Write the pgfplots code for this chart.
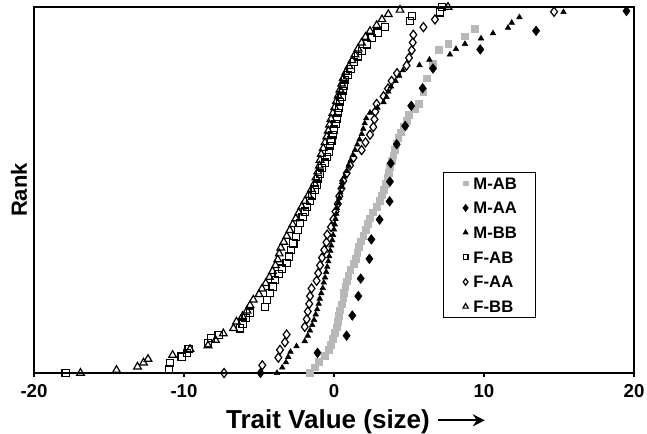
\documentclass[border=0pt]{standalone}
\usepackage{pgfplots}
\pgfplotsset{compat=1.18}
\usepackage{fontspec}
\setmainfont{Liberation Sans}
\usetikzlibrary{arrows.meta}
\definecolor{mab}{gray}{0.72}
\begin{document}
\begin{tikzpicture}
\begin{axis}[
  scale only axis, width=450pt, height=274.5pt,
  xmin=-20, xmax=20, ymin=0, ymax=1,
  clip=false,
  axis line style={line width=1pt},
  xtick={-20,-10,0,10,20},
  xticklabels={{-20},{-10},{0},{10},{20}},
  xtick pos=bottom,
  xticklabel style={font=\bfseries\fontsize{14}{14}\selectfont, yshift=-2pt},
  tick align=outside, major tick length=3pt,
  tick style={line width=0.8pt, black},
  ytick=\empty,
  xlabel={Trait Value (size) \tikz[baseline=0pt]\draw[line width=1.6pt,-{Stealth[length=9pt,width=9pt]}] (0,6.5pt)--(35pt,6.5pt);},
  xlabel style={at={(axis description cs:0.5,0)}, anchor=base, yshift=-42pt, xshift=16.5pt, font=\bfseries\fontsize{19.5}{22}\selectfont},
  ylabel={Rank},
  ylabel style={at={(axis description cs:-0.0117,0.5)}, anchor=base, font=\bfseries\fontsize{16.5}{18}\selectfont},
  legend cell align=left,
  legend image code/.code={\path (-4pt,0pt) (3.5pt,0pt); \draw[#1] plot coordinates {(0pt,0pt)};},
  legend style={at={(rel axis cs:0.837,0.549)}, anchor=north east, draw=black, line width=0.8pt,
    font=\bfseries\fontsize{12.5}{14}\selectfont,
    inner xsep=12pt, inner ysep=1.5pt, row sep=5.5pt, column sep=0pt,
    nodes={inner xsep=2pt, inner ysep=2pt, text height=9pt, text depth=0pt}},
]
% M-AB
\addplot[only marks, mark=square*, mark size=2.5pt, mark options={draw=mab, fill=mab, line width=0.3pt}, legend image post style={mark size=1.8pt}] table {
x y
-1.6 0.000
-1.3 0.016
-1.0 0.031
-0.6 0.047
-0.35 0.063
-0.2 0.078
-0.1 0.094
0.05 0.110
0.18 0.125
0.25 0.141
0.33 0.157
0.4 0.172
0.5 0.188
0.62 0.204
0.65 0.219
0.75 0.235
0.84 0.251
0.95 0.266
1.07 0.282
1.3 0.298
1.45 0.313
1.55 0.329
1.65 0.345
1.8 0.360
1.95 0.376
2.1 0.392
2.25 0.407
2.4 0.423
2.6 0.439
2.84 0.454
3.05 0.470
3.2 0.486
3.3 0.501
3.45 0.517
3.55 0.533
3.65 0.548
3.73 0.564
3.85 0.580
3.95 0.595
4.05 0.611
4.15 0.627
4.29 0.642
4.45 0.658
4.65 0.674
4.85 0.689
5.0 0.705
5.4 0.721
5.65 0.736
5.95 0.768
6.18 0.805
6.6 0.845
6.96 0.883
7.62 0.900
8.73 0.920
9.4 0.940
};
\addlegendentry{M-AB}
% M-AA
\addplot[only marks, mark=diamond*, mark size=3.6pt, mark options={black}, legend image post style={mark size=2.4pt}] table {
x y
-4.9 0.000
-1.1 0.055
0.84 0.102
1.22 0.157
1.62 0.210
1.78 0.258
2.36 0.312
2.49 0.365
3.04 0.419
3.71 0.469
3.73 0.523
3.78 0.573
4.18 0.625
4.75 0.675
5.15 0.730
5.91 0.778
6.6 0.832
9.75 0.884
13.47 0.935
19.5 0.989
};
\addlegendentry{M-AA}
% M-BB
\addplot[only marks, mark=triangle*, mark size=2.4pt, mark options={black}, legend image post style={mark size=1.9pt}] table {
x y
-3.8 0.000
-3.45 0.015
-3.2 0.029
-3.05 0.044
-2.9 0.058
-2.5 0.073
-1.95 0.087
-1.75 0.102
-1.6 0.116
-1.45 0.131
-1.33 0.145
-1.22 0.160
-1.12 0.174
-1.02 0.189
-0.95 0.203
-0.85 0.218
-0.75 0.232
-0.68 0.247
-0.6 0.261
-0.52 0.276
-0.45 0.290
-0.38 0.305
-0.32 0.319
-0.25 0.334
-0.18 0.348
-0.12 0.363
-0.06 0.377
0.0 0.392
0.05 0.406
0.1 0.421
0.15 0.435
0.2 0.450
0.28 0.464
0.35 0.479
0.42 0.493
0.48 0.508
0.55 0.522
0.7 0.537
0.85 0.551
0.98 0.566
1.1 0.580
1.25 0.595
1.4 0.609
1.55 0.624
1.7 0.638
1.85 0.653
1.95 0.667
2.05 0.682
2.15 0.696
2.4 0.711
2.9 0.725
3.3 0.740
3.5 0.754
3.62 0.769
3.8 0.783
4.1 0.798
4.35 0.812
4.6 0.827
5.7 0.841
6.36 0.856
7.73 0.870
8.13 0.885
8.73 0.899
9.8 0.914
10.6 0.928
11.6 0.943
11.85 0.957
12.36 0.972
15.3 0.986
};
\addlegendentry{M-BB}
% F-AB
\addplot[only marks, mark=square, mark size=2.7pt, mark options={black, line width=0.9pt}, legend image post style={mark size=1.8pt, line width=0.8pt}] table {
x y
-17.9 0.000
-11.0 0.011
-10.93 0.028
-10.16 0.045
-9.8 0.055
-9.7 0.066
-8.4 0.081
-8.2 0.095
-7.7 0.104
-6.27 0.122
-6.1 0.135
-5.9 0.150
-5.6 0.165
-4.6 0.181
-4.45 0.200
-4.27 0.218
-4.1 0.236
-3.93 0.254
-3.7 0.270
-3.45 0.285
-3.16 0.300
-3.0 0.318
-2.85 0.336
-2.71 0.354
-2.55 0.372
-2.4 0.390
-2.27 0.409
-2.1 0.427
-1.95 0.441
-1.82 0.454
-1.6 0.470
-1.45 0.485
-1.3 0.500
-1.15 0.515
-1.05 0.530
-0.95 0.545
-0.8 0.560
-0.6 0.575
-0.45 0.590
-0.35 0.605
-0.25 0.620
-0.18 0.635
-0.1 0.650
0.0 0.665
0.1 0.680
0.18 0.695
0.25 0.710
0.32 0.725
0.4 0.740
0.5 0.755
0.6 0.770
0.68 0.785
0.73 0.800
0.9 0.815
1.1 0.830
1.35 0.850
1.6 0.865
1.85 0.880
2.18 0.898
2.5 0.915
2.9 0.930
3.4 0.946
5.07 0.962
5.2 0.975
7.07 0.985
7.2 1.000
};
\addlegendentry{F-AB}
% F-AA
\addplot[only marks, mark=diamond, mark size=3.4pt, mark options={black, line width=0.9pt}, legend image post style={mark size=2.4pt, line width=0.8pt}] table {
x y
-7.33 0.000
-4.78 0.021
-3.71 0.042
-3.6 0.063
-3.27 0.084
-3.16 0.105
-1.95 0.126
-1.82 0.147
-1.75 0.168
-1.65 0.189
-1.6 0.210
-1.5 0.231
-1.16 0.252
-1.05 0.273
-0.93 0.294
-0.8 0.315
-0.65 0.336
-0.5 0.357
-0.45 0.378
-0.2 0.399
-0.04 0.420
0.1 0.441
0.25 0.462
0.35 0.483
0.5 0.504
0.62 0.525
0.85 0.546
1.07 0.567
1.3 0.588
1.84 0.609
2.1 0.630
2.4 0.651
2.62 0.672
2.7 0.693
2.75 0.714
2.84 0.735
3.3 0.756
3.6 0.777
3.84 0.798
4.2 0.819
4.84 0.840
5.0 0.861
5.18 0.882
5.25 0.903
5.29 0.924
5.96 0.945
6.73 0.966
14.67 0.987
};
\addlegendentry{F-AA}
% F-BB
\addplot[only marks, mark=triangle, mark size=3.3pt, mark options={black, line width=0.9pt}, legend image post style={mark size=2.3pt, line width=0.8pt}] table {
x y
-16.9 0.000
-14.5 0.008
-13.1 0.017
-12.7 0.028
-12.4 0.038
-10.76 0.049
-9.6 0.065
-8.4 0.075
-7.9 0.090
-7.38 0.108
-6.7 0.122
-6.5 0.140
-6.1 0.155
-5.8 0.170
-5.6 0.185
-5.38 0.200
-5.0 0.215
-4.8 0.230
-4.55 0.245
-4.3 0.262
-4.1 0.278
-3.9 0.294
-3.75 0.310
-3.65 0.326
-3.55 0.342
-3.35 0.358
-3.15 0.374
-2.95 0.390
-2.75 0.406
-2.55 0.422
-2.35 0.438
-2.15 0.454
-1.93 0.470
-1.7 0.486
-1.5 0.502
-1.3 0.518
-1.2 0.534
-1.08 0.550
-0.98 0.566
-0.93 0.582
-0.85 0.598
-0.72 0.614
-0.6 0.630
-0.48 0.646
-0.38 0.662
-0.3 0.678
-0.2 0.694
-0.08 0.710
0.05 0.726
0.15 0.742
0.28 0.758
0.4 0.774
0.51 0.790
0.62 0.806
0.8 0.822
1.0 0.838
1.2 0.854
1.4 0.870
1.6 0.886
1.84 0.902
2.1 0.918
2.4 0.934
2.84 0.950
3.2 0.966
3.62 0.980
4.4 0.992
7.6 1.000
};
\addlegendentry{F-BB}
\end{axis}
\pgfresetboundingbox
\path ([shift={(-25.5pt,-45.75pt)}]current axis.south west) rectangle ([shift={(9.75pt,5.25pt)}]current axis.north east);
\end{tikzpicture}
\end{document}
